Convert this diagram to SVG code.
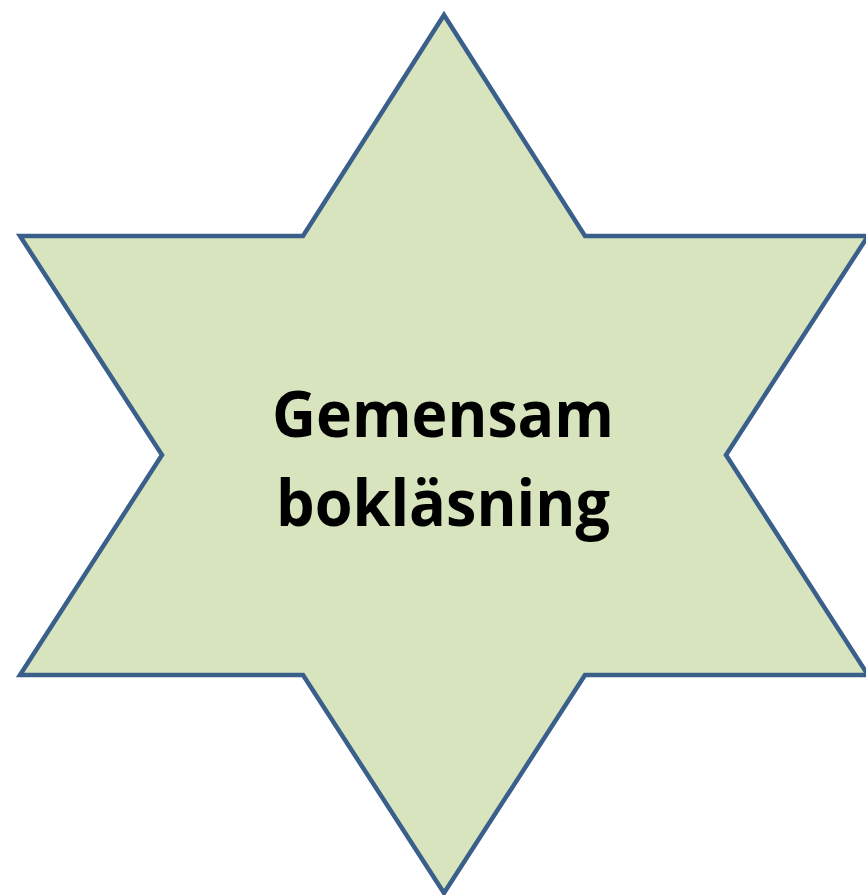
<svg xmlns="http://www.w3.org/2000/svg" width="866" height="895" viewBox="0 0 866 895">
<style>
.star{fill:#D7E4BD;stroke:#3A5F8B;stroke-width:4.5;stroke-linejoin:miter}
.lbl{font-family:"Open Sans","Liberation Sans",sans-serif;font-weight:700;font-size:65px;fill:#000;text-anchor:middle}
</style>
<rect width="866" height="895" fill="#fff"/>
<g id="star">
<polygon class="star" points="444,15 585,236 868,236 726,455 868,675 585,675 444,893 303,675 20,675 162,455 20,236 303,236"/>
<text class="lbl" x="443" y="437" textLength="342" lengthAdjust="spacingAndGlyphs">Gemensam</text>
<text class="lbl" x="443" y="526" textLength="334" lengthAdjust="spacingAndGlyphs">bokläsning</text>
</g>
</svg>
